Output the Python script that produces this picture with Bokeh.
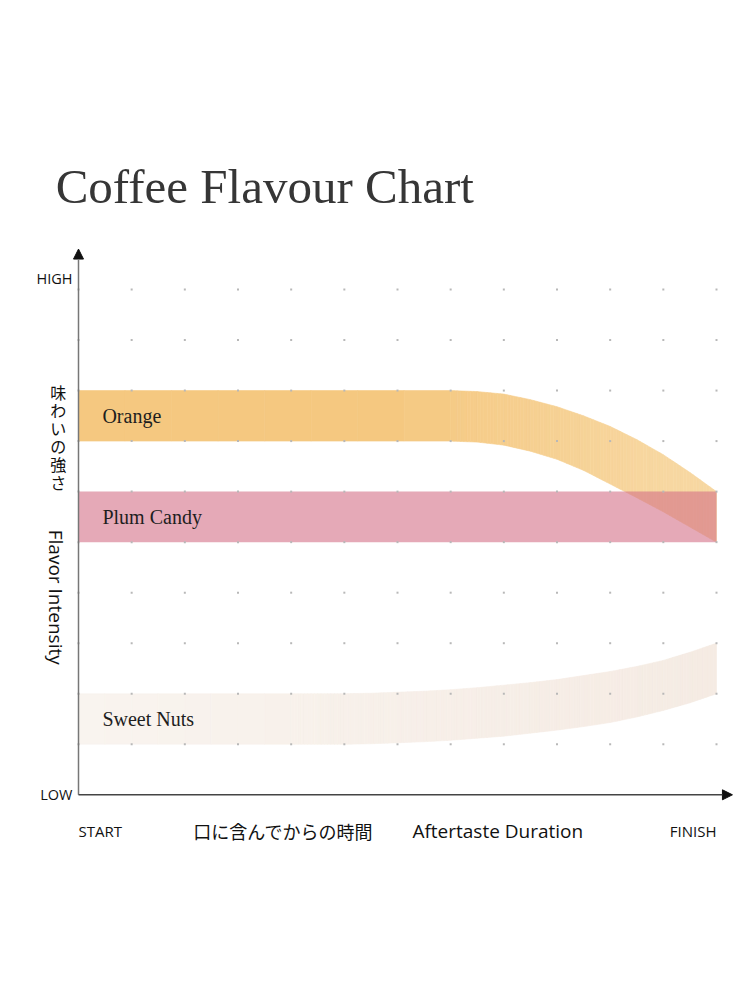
from bokeh.plotting import figure
from bokeh.models import Range1d, Arrow, NormalHead
from bokeh.core.properties import value
from bokeh.embed import file_html
from bokeh.resources import INLINE

# ---------------- data ----------------
title_text = "Coffee Flavour Chart"
band_names = ["Orange", "Plum Candy", "Sweet Nuts"]

orange_x = [0, 7, 7.5, 8, 8.5, 9, 9.5, 10, 10.5, 11, 11.5, 12]
orange_top = [8.0, 8.0, 7.98, 7.93, 7.82, 7.68, 7.5, 7.29, 7.03, 6.73, 6.38, 6.0]
orange_bottom = [7.0, 7.0, 6.98, 6.92, 6.8, 6.64, 6.42, 6.15, 5.88, 5.6, 5.3, 5.0]

plum_x = [0, 12]
plum_top = [6.0, 6.0]
plum_bottom = [5.0, 5.0]

nuts_x = [0, 4, 4.5, 5, 5.5, 6, 6.5, 7, 7.5, 8, 8.5, 9, 9.5, 10, 10.5, 11, 11.5, 12]
nuts_top = [2.0, 2.0, 2.0, 2.0, 2.01, 2.03, 2.05, 2.08, 2.12, 2.17, 2.22, 2.28, 2.36, 2.44, 2.54, 2.66, 2.82, 3.0]
nuts_bottom = [1.0, 1.0, 1.0, 1.0, 1.01, 1.03, 1.05, 1.08, 1.12, 1.16, 1.22, 1.28, 1.35, 1.43, 1.54, 1.67, 1.82, 2.0]

x_ticks = ["START", "FINISH"]
y_ticks = ["LOW", "HIGH"]
x_title_jp = "口に含んでからの時間"
x_title_en = "Aftertaste Duration"
y_title_jp = "味わいの強さ"
y_title_en = "Flavor Intensity"

grid_cols = list(range(0, 13))
grid_rows = list(range(1, 11))

# ---------------- layout ----------------
W, H = 734, 984
ORIGIN = 0  # page offset of the figure's top-left corner
PX_X = (716 - 78) / 12.0
PX_Y = (794.3 - 289) / 10.0
XS = -(78 - ORIGIN) / PX_X
XE = XS + W / PX_X
YE = 10 + (289 - ORIGIN) / PX_Y
YS = YE - H / PX_Y

p = figure(width=W, height=H, x_range=Range1d(XS, XE), y_range=Range1d(YS, YE),
           output_backend="svg", toolbar_location=None,
           x_axis_type=None, y_axis_type=None, min_border=0,
           outline_line_color=None, background_fill_color="white",
           border_fill_color="white")


def hex_mix(c1, c2, t):
    a = [int(c1[i:i + 2], 16) for i in (1, 3, 5)]
    b = [int(c2[i:i + 2], 16) for i in (1, 3, 5)]
    return "#%02x%02x%02x" % tuple(round(a[k] + (b[k] - a[k]) * t) for k in range(3))


def segmented_band(xs, tops, bots, c_left, c_right, t_of_x, sub=8):
    """Fill the band polygon as thin slices (same outline) to fake a horizontal gradient."""
    px, py, cols = [], [], []
    for i in range(len(xs) - 1):
        for k in range(sub):
            f0, f1 = k / sub, (k + 1) / sub
            xa = xs[i] + (xs[i + 1] - xs[i]) * f0
            xb = xs[i] + (xs[i + 1] - xs[i]) * f1
            ta = tops[i] + (tops[i + 1] - tops[i]) * f0
            tb = tops[i] + (tops[i + 1] - tops[i]) * f1
            ba = bots[i] + (bots[i + 1] - bots[i]) * f0
            bb = bots[i] + (bots[i + 1] - bots[i]) * f1
            px.append([xa, xb, xb, xa])
            py.append([ta, tb, bb, ba])
            cols.append(hex_mix(c_left, c_right, t_of_x(0.5 * (xa + xb))))
    p.patches(px, py, fill_color=cols, line_color=cols, line_width=0.6)


# orange band (gradient toward the right)
segmented_band(orange_x, orange_top, orange_bottom, "#f5c880", "#f7d7a1",
               lambda x: min(1.0, max(0.0, (x - 6.0) / 5.0)))
# sweet nuts band
segmented_band(nuts_x, nuts_top, nuts_bottom, "#f9f4ef", "#f5ebe3",
               lambda x: min(1.0, max(0.0, x / 12.0)))
# plum candy band (translucent, drawn over orange)
p.patch(plum_x + plum_x[::-1], plum_top + plum_bottom[::-1],
        fill_color="#d47087", fill_alpha=0.6, line_color=None)

# dot grid
gx = [c for r in grid_rows for c in grid_cols]
gy = [r for r in grid_rows for c in grid_cols]
p.scatter(gx, gy, marker="square", size=2, fill_color="#b8b8b8", line_color=None)

# axes with arrows
p.add_layout(Arrow(end=NormalHead(size=10, fill_color="#111111", line_color="#111111"),
                   x_start=0, y_start=0, x_end=0, y_end=10.8,
                   line_color="#777777", line_width=1.5))
p.add_layout(Arrow(end=NormalHead(size=10, fill_color="#111111", line_color="#111111"),
                   x_start=0, y_start=0, x_end=12.3, y_end=0,
                   line_color="#444444", line_width=1.5))

# title
p.text(x=[-0.43], y=[12.04], text=[title_text], text_font=value("Liberation Serif"),
       text_font_size="49px", text_color="#363636", text_align="left",
       text_baseline="alphabetic")

# band labels
p.text(x=[0.45, 0.45, 0.45], y=[7.5, 5.5, 1.5], text=band_names,
       text_font=value("Liberation Serif"), text_font_size="20px",
       text_color="#1e1e1e", text_align="left", text_baseline="middle")

# tick labels
p.text(x=[-0.113, -0.113], y=[0.0, 10.22], text=y_ticks, text_font=value("Open Sans"),
       text_font_size="14.5px", text_color="#111111", text_align="right",
       text_baseline="middle")
p.text(x=[0.0], y=[-0.71], text=[x_ticks[0]], text_font=value("Open Sans"),
       text_font_size="15px", text_color="#111111", text_align="left",
       text_baseline="middle")
p.text(x=[12.0], y=[-0.71], text=[x_ticks[1]], text_font=value("Open Sans"),
       text_font_size="15px", text_color="#111111", text_align="right",
       text_baseline="middle")

# axis titles
p.text(x=[2.16], y=[-0.71], text=[x_title_jp], text_font=value("Noto Sans CJK JP"),
       text_font_size="18px", text_color="#111111", text_align="left",
       text_baseline="middle")
p.text(x=[6.28], y=[-0.71], text=[x_title_en], text_font=value("Open Sans"),
       text_font_size="19px", text_color="#111111", text_align="left",
       text_baseline="middle")
p.text(x=[-0.43], y=[3.91], text=[y_title_en], text_font=value("Open Sans"),
       text_font_size="19px", text_color="#111111", text_align="center",
       text_baseline="middle", angle=-1.5707963)
jp_chars = list(y_title_jp)
jp_y = [7.97 - i * 0.355 for i in range(len(jp_chars))]
p.text(x=[-0.38] * len(jp_chars), y=jp_y, text=jp_chars,
       text_font=value("Noto Sans CJK JP"), text_font_size="16px",
       text_color="#111111", text_align="center", text_baseline="middle")

open("out.html", "w").write(file_html(p, INLINE))
